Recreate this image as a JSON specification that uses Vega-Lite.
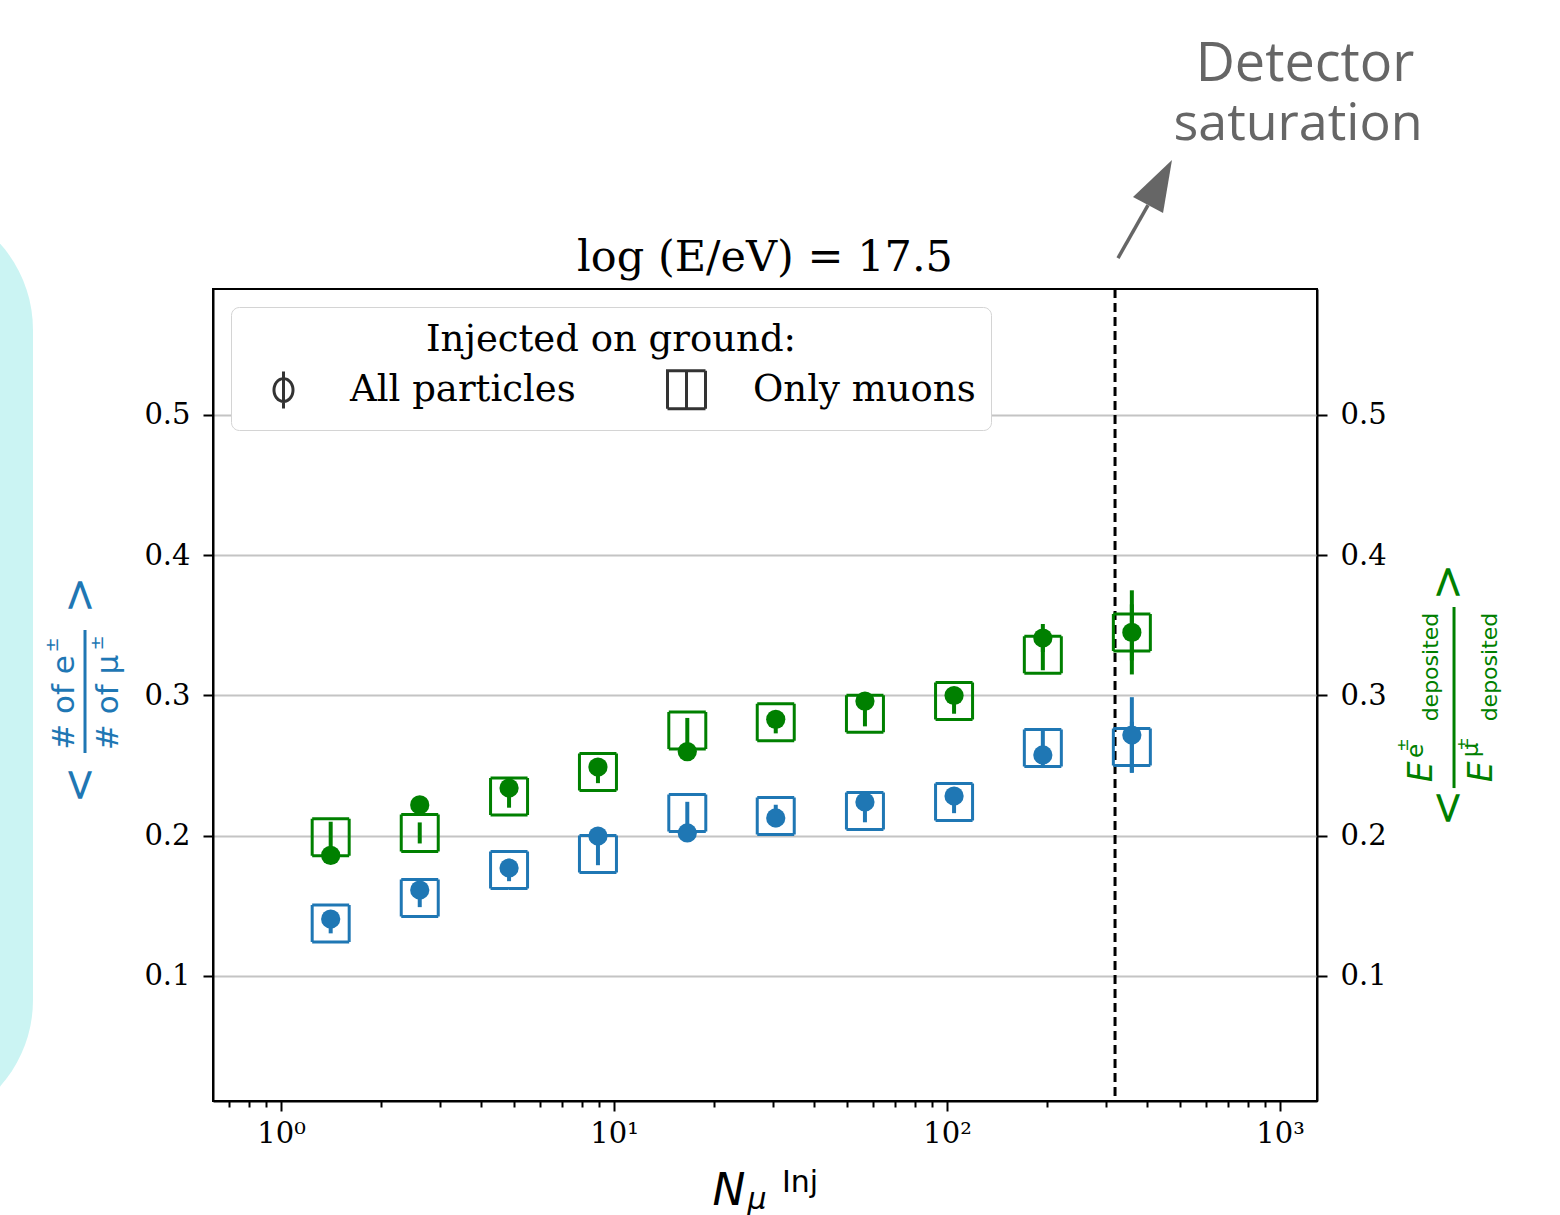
{
  "$schema": "https://vega.github.io/schema/vega-lite/v6.json",
  "width": 1104,
  "height": 812,
  "autosize": {"type": "none"},
  "padding": {"left": 213, "top": 289, "right": 243, "bottom": 114},
  "background": "white",
  "config": {
    "view": {"stroke": "black", "strokeWidth": 2},
    "font": "DejaVu Sans"
  },
  "datasets": {
    "pts": [
      {"n": 1.41, "val": 0.199, "lo": 0.188, "hi": 0.210, "qty": "energy", "inj": "Only muons"},
      {"n": 2.61, "val": 0.202, "lo": 0.1945, "hi": 0.2095, "qty": "energy", "inj": "Only muons"},
      {"n": 4.84, "val": 0.228, "lo": 0.220, "hi": 0.236, "qty": "energy", "inj": "Only muons"},
      {"n": 8.95, "val": 0.2455, "lo": 0.2375, "hi": 0.2535, "qty": "energy", "inj": "Only muons"},
      {"n": 16.6, "val": 0.275, "lo": 0.266, "hi": 0.284, "qty": "energy", "inj": "Only muons"},
      {"n": 30.6, "val": 0.281, "lo": 0.273, "hi": 0.289, "qty": "energy", "inj": "Only muons"},
      {"n": 56.7, "val": 0.287, "lo": 0.278, "hi": 0.296, "qty": "energy", "inj": "Only muons"},
      {"n": 105, "val": 0.296, "lo": 0.287, "hi": 0.305, "qty": "energy", "inj": "Only muons"},
      {"n": 194, "val": 0.329, "lo": 0.318, "hi": 0.340, "qty": "energy", "inj": "Only muons"},
      {"n": 359, "val": 0.345, "lo": 0.325, "hi": 0.365, "qty": "energy", "inj": "Only muons"},
      {"n": 1.41, "val": 0.1374, "lo": 0.1304, "hi": 0.1444, "qty": "count", "inj": "Only muons"},
      {"n": 2.61, "val": 0.1556, "lo": 0.1491, "hi": 0.1621, "qty": "count", "inj": "Only muons"},
      {"n": 4.84, "val": 0.1756, "lo": 0.1676, "hi": 0.1836, "qty": "count", "inj": "Only muons"},
      {"n": 8.95, "val": 0.187, "lo": 0.179, "hi": 0.195, "qty": "count", "inj": "Only muons"},
      {"n": 16.6, "val": 0.2162, "lo": 0.2082, "hi": 0.2242, "qty": "count", "inj": "Only muons"},
      {"n": 30.6, "val": 0.2141, "lo": 0.2061, "hi": 0.2221, "qty": "count", "inj": "Only muons"},
      {"n": 56.7, "val": 0.2176, "lo": 0.2096, "hi": 0.2256, "qty": "count", "inj": "Only muons"},
      {"n": 105, "val": 0.2241, "lo": 0.2161, "hi": 0.2321, "qty": "count", "inj": "Only muons"},
      {"n": 194, "val": 0.2626, "lo": 0.2496, "hi": 0.2756, "qty": "count", "inj": "Only muons"},
      {"n": 359, "val": 0.2633, "lo": 0.2453, "hi": 0.2813, "qty": "count", "inj": "Only muons"},
      {"n": 1.41, "val": 0.186, "lo": 0.182, "hi": 0.190, "qty": "energy", "inj": "All particles"},
      {"n": 2.61, "val": 0.222, "lo": 0.218, "hi": 0.226, "qty": "energy", "inj": "All particles"},
      {"n": 4.84, "val": 0.234, "lo": 0.230, "hi": 0.238, "qty": "energy", "inj": "All particles"},
      {"n": 8.95, "val": 0.249, "lo": 0.245, "hi": 0.253, "qty": "energy", "inj": "All particles"},
      {"n": 16.6, "val": 0.260, "lo": 0.256, "hi": 0.264, "qty": "energy", "inj": "All particles"},
      {"n": 30.6, "val": 0.283, "lo": 0.279, "hi": 0.287, "qty": "energy", "inj": "All particles"},
      {"n": 56.7, "val": 0.296, "lo": 0.292, "hi": 0.300, "qty": "energy", "inj": "All particles"},
      {"n": 105, "val": 0.300, "lo": 0.296, "hi": 0.304, "qty": "energy", "inj": "All particles"},
      {"n": 194, "val": 0.341, "lo": 0.331, "hi": 0.351, "qty": "energy", "inj": "All particles"},
      {"n": 359, "val": 0.345, "lo": 0.315, "hi": 0.375, "qty": "energy", "inj": "All particles"},
      {"n": 1.41, "val": 0.1406, "lo": 0.1366, "hi": 0.1446, "qty": "count", "inj": "All particles"},
      {"n": 2.61, "val": 0.1613, "lo": 0.1573, "hi": 0.1653, "qty": "count", "inj": "All particles"},
      {"n": 4.84, "val": 0.177, "lo": 0.173, "hi": 0.181, "qty": "count", "inj": "All particles"},
      {"n": 8.95, "val": 0.1998, "lo": 0.1958, "hi": 0.2038, "qty": "count", "inj": "All particles"},
      {"n": 16.6, "val": 0.202, "lo": 0.198, "hi": 0.206, "qty": "count", "inj": "All particles"},
      {"n": 30.6, "val": 0.2127, "lo": 0.2087, "hi": 0.2167, "qty": "count", "inj": "All particles"},
      {"n": 56.7, "val": 0.2241, "lo": 0.2201, "hi": 0.2281, "qty": "count", "inj": "All particles"},
      {"n": 105, "val": 0.2283, "lo": 0.2243, "hi": 0.2323, "qty": "count", "inj": "All particles"},
      {"n": 194, "val": 0.2576, "lo": 0.2536, "hi": 0.2616, "qty": "count", "inj": "All particles"},
      {"n": 359, "val": 0.2718, "lo": 0.2448, "hi": 0.2988, "qty": "count", "inj": "All particles"}
    ]
  },
  "resolve": {"axis": {"y": "independent", "x": "independent"}},
  "layer": [
    {
      "data": {"values": [{}]},
      "mark": {"type": "rect", "color": "#cbf4f3", "cornerRadius": 130},
      "encoding": {
        "x": {"datum": 0.01, "scale": {"type": "log", "domain": [0.6249, 1291.5], "nice": false}, "axis": null},
        "x2": {"datum": 0.18},
        "y": {"datum": 0.6533, "scale": {"domain": [0.01087, 0.58984], "nice": false, "zero": false}, "axis": null},
        "y2": {"datum": -0.0098}
      }
    },
    {
      "data": {"name": "pts"},
      "mark": {"type": "rule", "strokeWidth": 4},
      "encoding": {
        "x": {"field": "n", "type": "quantitative",
          "scale": {"type": "log", "domain": [0.6249, 1291.5], "nice": false},
          "axis": {
            "orient": "bottom", "title": null,
            "values": [1, 10, 100, 1000],
            "labelExpr": "datum.value == 1 ? '10⁰' : datum.value == 10 ? '10¹' : datum.value == 100 ? '10²' : '10³'",
            "tickSize": 10, "grid": false,
            "labelFont": "DejaVu Serif", "labelFontSize": 29, "labelColor": "black",
            "tickColor": "black", "tickWidth": 2, "domainColor": "black", "domainWidth": 2,
            "labelPadding": 8, "labelOverlap": false, "labelFlush": false, "labelBound": false
          }
        },
        "y": {"field": "lo", "type": "quantitative",
          "scale": {"domain": [0.01087, 0.58984], "nice": false, "zero": false},
          "axis": {
            "orient": "left", "title": null, "values": [0.1, 0.2, 0.3, 0.4, 0.5], "format": ".1f",
            "grid": true, "gridColor": "#c4c4c4", "gridWidth": 2,
            "labelFont": "DejaVu Serif", "labelFontSize": 29, "labelColor": "black",
            "tickColor": "black", "tickWidth": 2, "tickSize": 10, "labelPadding": 13,
            "domainColor": "black", "domainWidth": 2
          }
        },
        "y2": {"field": "hi"},
        "color": {"field": "qty", "type": "nominal", "scale": {"domain": ["count", "energy"], "range": ["#1f77b4", "#008000"]}, "legend": null}
      }
    },
    {
      "data": {"values": [{}]},
      "mark": {"type": "rule", "color": "black", "strokeWidth": 3, "strokeDash": [9, 5]},
      "encoding": {
        "x": {"datum": 319.6, "scale": {"type": "log", "domain": [0.6249, 1291.5], "nice": false},
          "axis": {
            "orient": "bottom", "title": null,
            "values": [0.7, 0.8, 0.9, 2, 3, 4, 5, 6, 7, 8, 9, 20, 30, 40, 50, 60, 70, 80, 90, 200, 300, 400, 500, 600, 700, 800, 900],
            "labels": false, "domain": false, "grid": false,
            "tickSize": 6, "tickWidth": 2, "tickColor": "black"
          }
        },
        "y": {"datum": 0.58984, "scale": {"domain": [0.01087, 0.58984], "nice": false, "zero": false}, "axis": null},
        "y2": {"datum": 0.01087}
      }
    },
    {
      "data": {"name": "pts"},
      "transform": [{"filter": "datum.inj === 'Only muons'"}],
      "mark": {"type": "point",
        "shape": {"expr": "datum.value === 'All particles' ? 'M0,-0.97V0.97M-0.5,0A0.5,0.6 0 1,0 0.5,0A0.5,0.6 0 1,0 -0.5,0' : (datum.value === 'Only muons' ? 'M-1,-1H1V1H-1ZM0,-1V1' : 'square')"},
        "filled": false, "size": 1369, "strokeWidth": 3, "opacity": 1},
      "encoding": {
        "x": {"field": "n", "type": "quantitative", "scale": {"type": "log", "domain": [0.6249, 1291.5], "nice": false}, "axis": null},
        "y": {"field": "val", "type": "quantitative",
          "scale": {"domain": [0.01087, 0.58984], "nice": false, "zero": false},
          "axis": {
            "orient": "right", "title": null, "values": [0.1, 0.2, 0.3, 0.4, 0.5], "format": ".1f",
            "grid": false,
            "labelFont": "DejaVu Serif", "labelFontSize": 29, "labelColor": "black",
            "tickColor": "black", "tickWidth": 2, "tickSize": 10, "labelPadding": 13,
            "domainColor": "black", "domainWidth": 2
          }
        },
        "color": {"field": "qty", "type": "nominal", "scale": {"domain": ["count", "energy"], "range": ["#1f77b4", "#008000"]}, "legend": null},
        "strokeDash": {"field": "inj", "type": "nominal",
          "scale": {"domain": ["All particles", "Only muons"], "range": [[1, 0], [1, 0]]},
          "legend": {
            "title": "Injected on ground:", "orient": "top-left", "offset": 18,
            "direction": "horizontal", "columns": 2,
            "titleFont": "DejaVu Serif", "titleFontSize": 37, "titleFontWeight": "normal", "titleColor": "black",
            "titleAnchor": "middle", "titlePadding": 10, "titleLimit": 700,
            "labelFont": "DejaVu Serif", "labelFontSize": 37, "labelColor": "black", "labelLimit": 500,
            "labelOffset": 46, "symbolOffset": 17, "symbolSize": 1444,
            "symbolStrokeColor": "#333333", "symbolFillColor": "transparent", "symbolStrokeWidth": 3,
            "columnPadding": 73, "padding": 15,
            "fillColor": "white", "strokeColor": "#d4d4d4", "cornerRadius": 8,
            "encode": {
              "legend": {"strokeWidth": {"value": 2}},
              "symbols": {
                "fill": {"value": "transparent"},
                "stroke": {"value": "#333333"},
                "strokeWidth": {"value": 3},
                "opacity": {"value": 1},
                "size": {"value": 1444}
              }
            }
          }
        }
      }
    },
    {
      "data": {"name": "pts"},
      "transform": [{"filter": "datum.inj === 'All particles'"}],
      "mark": {"type": "point", "shape": "circle", "filled": true, "size": 370, "opacity": 1},
      "encoding": {
        "x": {"field": "n", "type": "quantitative", "scale": {"type": "log", "domain": [0.6249, 1291.5], "nice": false}, "axis": null},
        "y": {"field": "val", "type": "quantitative", "scale": {"domain": [0.01087, 0.58984], "nice": false, "zero": false}, "axis": null},
        "color": {"field": "qty", "type": "nominal", "scale": {"domain": ["count", "energy"], "range": ["#1f77b4", "#008000"]}, "legend": null}
      }
    },
    {
      "data": {"values": [{}]},
      "layer": [
        {"mark": {"type": "text", "text": "log (E/eV) = 17.5", "font": "DejaVu Serif", "fontSize": 43, "color": "black", "align": "center", "baseline": "alphabetic"},
         "encoding": {"x": {"datum": 28.41}, "y": {"datum": 0.6027}}},
        {"mark": {"type": "text", "text": ">", "fontSize": 44, "color": "#1f77b4", "angle": 270, "align": "center", "baseline": "middle"},
         "encoding": {"x": {"datum": 0.2507}, "y": {"datum": 0.3717}}},
        {"mark": {"type": "text", "text": "<", "fontSize": 44, "color": "#1f77b4", "angle": 270, "align": "center", "baseline": "middle"},
         "encoding": {"x": {"datum": 0.2507}, "y": {"datum": 0.2362}}},
        {"mark": {"type": "rule", "color": "#1f77b4", "strokeWidth": 3},
         "encoding": {"x": {"datum": 0.2579}, "y": {"datum": 0.3467}, "y2": {"datum": 0.2590}}},
        {"mark": {"type": "text", "text": "# of e", "fontSize": 31, "color": "#1f77b4", "angle": 270, "align": "center", "baseline": "middle"},
         "encoding": {"x": {"datum": 0.2253}, "y": {"datum": 0.2950}}},
        {"mark": {"type": "text", "text": "±", "fontSize": 18, "color": "#1f77b4", "angle": 270, "align": "center", "baseline": "middle"},
         "encoding": {"x": {"datum": 0.2061}, "y": {"datum": 0.3360}}},
        {"mark": {"type": "text", "text": "# of μ", "fontSize": 31, "color": "#1f77b4", "angle": 270, "align": "center", "baseline": "middle"},
         "encoding": {"x": {"datum": 0.3038}, "y": {"datum": 0.2950}}},
        {"mark": {"type": "text", "text": "±", "fontSize": 18, "color": "#1f77b4", "angle": 270, "align": "center", "baseline": "middle"},
         "encoding": {"x": {"datum": 0.2813}, "y": {"datum": 0.3374}}},
        {"mark": {"type": "text", "text": ">", "fontSize": 44, "color": "#008000", "angle": 270, "align": "center", "baseline": "middle"},
         "encoding": {"x": {"datum": 3218}, "y": {"datum": 0.3809}}},
        {"mark": {"type": "text", "text": "<", "fontSize": 44, "color": "#008000", "angle": 270, "align": "center", "baseline": "middle"},
         "encoding": {"x": {"datum": 3218}, "y": {"datum": 0.2198}}},
        {"mark": {"type": "rule", "color": "#008000", "strokeWidth": 3},
         "encoding": {"x": {"datum": 3331}, "y": {"datum": 0.3631}, "y2": {"datum": 0.2340}}},
        {"mark": {"type": "text", "text": "E", "fontSize": 33, "fontStyle": "italic", "color": "#008000", "angle": 270, "align": "center", "baseline": "middle"},
         "encoding": {"x": {"datum": 2669}, "y": {"datum": 0.2455}}},
        {"mark": {"type": "text", "text": "e", "fontSize": 23, "color": "#008000", "angle": 270, "align": "center", "baseline": "middle"},
         "encoding": {"x": {"datum": 2561}, "y": {"datum": 0.2604}}},
        {"mark": {"type": "text", "text": "±", "fontSize": 16, "color": "#008000", "angle": 270, "align": "center", "baseline": "middle"},
         "encoding": {"x": {"datum": 2341}, "y": {"datum": 0.2647}}},
        {"mark": {"type": "text", "text": "deposited", "fontSize": 22, "color": "#008000", "angle": 270, "align": "center", "baseline": "middle"},
         "encoding": {"x": {"datum": 2841}, "y": {"datum": 0.3203}}},
        {"mark": {"type": "text", "text": "E", "fontSize": 33, "fontStyle": "italic", "color": "#008000", "angle": 270, "align": "center", "baseline": "middle"},
         "encoding": {"x": {"datum": 4043}, "y": {"datum": 0.2455}}},
        {"mark": {"type": "text", "text": "μ", "fontSize": 23, "color": "#008000", "angle": 270, "align": "center", "baseline": "middle"},
         "encoding": {"x": {"datum": 3747}, "y": {"datum": 0.2611}}},
        {"mark": {"type": "text", "text": "±", "fontSize": 16, "color": "#008000", "angle": 270, "align": "center", "baseline": "middle"},
         "encoding": {"x": {"datum": 3544}, "y": {"datum": 0.2654}}},
        {"mark": {"type": "text", "text": "deposited", "fontSize": 22, "color": "#008000", "angle": 270, "align": "center", "baseline": "middle"},
         "encoding": {"x": {"datum": 4272}, "y": {"datum": 0.3203}}},
        {"mark": {"type": "text", "text": "N", "fontSize": 44, "fontStyle": "italic", "color": "black", "align": "center", "baseline": "alphabetic"},
         "encoding": {"x": {"datum": 22.14}, "y": {"datum": -0.0633}}},
        {"mark": {"type": "text", "text": "μ", "fontSize": 30, "fontStyle": "italic", "color": "black", "align": "center", "baseline": "alphabetic"},
         "encoding": {"x": {"datum": 26.88}, "y": {"datum": -0.0661}}},
        {"mark": {"type": "text", "text": "Inj", "fontSize": 30, "color": "black", "align": "center", "baseline": "alphabetic"},
         "encoding": {"x": {"datum": 36.19}, "y": {"datum": -0.0540}}},
        {"mark": {"type": "text", "text": "Detector", "font": "Open Sans", "fontSize": 54, "color": "#666666", "align": "center", "baseline": "alphabetic"},
         "encoding": {"x": {"datum": 1188.9}, "y": {"datum": 0.7381}}},
        {"mark": {"type": "text", "text": "saturation", "font": "Open Sans", "fontSize": 52, "color": "#666666", "align": "center", "baseline": "alphabetic"},
         "encoding": {"x": {"datum": 1132.9}, "y": {"datum": 0.6961}}},
        {"mark": {"type": "rule", "color": "#666666", "strokeWidth": 3.5},
         "encoding": {"x": {"datum": 326.2}, "x2": {"datum": 401.5}, "y": {"datum": 0.6119}, "y2": {"datum": 0.6497}}},
        {"mark": {"type": "point", "shape": "M0,-1L0.5,0.5L-0.5,0.5Z", "filled": true, "opacity": 1, "color": "#666666", "size": 4624, "angle": 28},
         "encoding": {"x": {"datum": 424.3}, "y": {"datum": 0.6604}}}
      ],
      "encoding": {
        "x": {"scale": {"type": "log", "domain": [0.6249, 1291.5], "nice": false}, "axis": null},
        "y": {"scale": {"domain": [0.01087, 0.58984], "nice": false, "zero": false}, "axis": null}
      }
    }
  ]
}
